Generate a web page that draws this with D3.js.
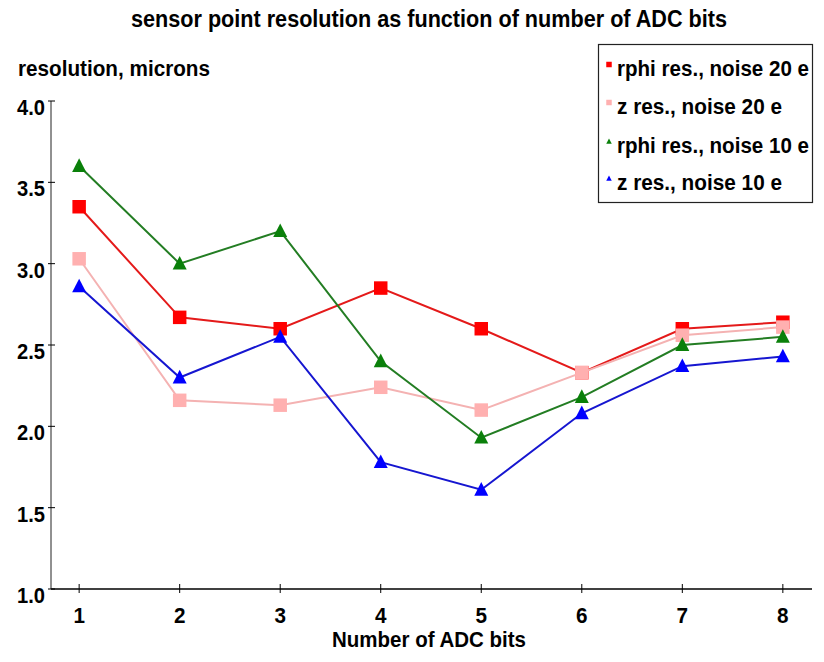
<!DOCTYPE html>
<html>
<head>
<meta charset="utf-8">
<script src="https://cdn.jsdelivr.net/npm/d3@7"></script>
<style>
  html, body { margin: 0; padding: 0; background: #fff; }
  svg text { font-family: "Liberation Sans", Arial, Helvetica, sans-serif; font-weight: bold; fill: #000; }
</style>
</head>
<body>
<svg id="chart" width="824" height="662"></svg>
<script>
// Number of ADC bits on the x axis
const adcBits = [1, 2, 3, 4, 5, 6, 7, 8];

// Point resolution (microns) for each configuration
const rphiNoise20 = [3.35, 2.67, 2.60, 2.85, 2.60, 2.33, 2.60, 2.64];
const zNoise20    = [3.03, 2.16, 2.13, 2.24, 2.10, 2.33, 2.56, 2.61];
const rphiNoise10 = [3.60, 3.00, 3.20, 2.40, 1.93, 2.18, 2.50, 2.55];
const zNoise10    = [2.86, 2.30, 2.55, 1.78, 1.61, 2.08, 2.37, 2.43];

const seriesNames = ["rphi res., noise 20 e", "z res., noise 20 e", "rphi res., noise 10 e", "z res., noise 10 e"];
const yTickValues = [1.0, 1.5, 2.0, 2.5, 3.0, 3.5, 4.0];

const series = [
  { name: seriesNames[0], values: rphiNoise20, marker: "square",   fill: "#ff0000", line: "#e41a1a" },
  { name: seriesNames[1], values: zNoise20,    marker: "square",   fill: "#ffb0b0", line: "#f4b2b2" },
  { name: seriesNames[2], values: rphiNoise10, marker: "triangle", fill: "#0a800a", line: "#237d23" },
  { name: seriesNames[3], values: zNoise10,    marker: "triangle", fill: "#0000ff", line: "#1616d0" }
];

const svg = d3.select("#chart");

// Scales: the axis frame runs slightly beyond the first and last bins
const x = d3.scaleLinear().domain([0.72, 8.29]).range([51, 812]);
const y = d3.scaleLinear().domain([1, 4]).range([589, 101]);

// Title (tall, slightly condensed lettering)
svg.append("text")
  .attr("x", 429).attr("y", 27)
  .attr("text-anchor", "middle")
  .attr("font-size", 23.5)
  .attr("textLength", 596)
  .attr("lengthAdjust", "spacingAndGlyphs")
  .text("sensor point resolution as function of number of ADC bits");

// Y axis title
svg.append("text")
  .attr("x", 18).attr("y", 76)
  .attr("font-size", 22)
  .attr("textLength", 192)
  .attr("lengthAdjust", "spacingAndGlyphs")
  .text("resolution, microns");

// X axis title
svg.append("text")
  .attr("x", 429).attr("y", 647)
  .attr("text-anchor", "middle")
  .attr("font-size", 22)
  .attr("textLength", 194)
  .attr("lengthAdjust", "spacingAndGlyphs")
  .text("Number of ADC bits");

// Axes
const axisG = svg.append("g");
axisG.append("line")
  .attr("x1", x.range()[0]).attr("x2", x.range()[1])
  .attr("y1", y(1)).attr("y2", y(1))
  .attr("stroke", "#000").attr("stroke-width", 1.4);
axisG.append("line")
  .attr("x1", x.range()[0]).attr("x2", x.range()[0])
  .attr("y1", y(1)).attr("y2", y(4))
  .attr("stroke", "#222").attr("stroke-width", 1);

// Y ticks cross the axis line
axisG.selectAll(".ytick").data(yTickValues).join("line")
  .attr("x1", x.range()[0] - 3).attr("x2", x.range()[0] + 4)
  .attr("y1", d => y(d)).attr("y2", d => y(d))
  .attr("stroke", "#000").attr("stroke-width", 1);
axisG.selectAll(".ylab").data(yTickValues).join("text")
  .attr("x", 45).attr("y", d => y(d) + 14)
  .attr("text-anchor", "end")
  .attr("font-size", 21.5)
  .attr("textLength", 28)
  .attr("lengthAdjust", "spacingAndGlyphs")
  .text(d => d3.format(".1f")(d));

// X ticks cross the axis line
axisG.selectAll(".xtick").data(adcBits).join("line")
  .attr("x1", d => x(d)).attr("x2", d => x(d))
  .attr("y1", y(1) - 5).attr("y2", y(1) + 4)
  .attr("stroke", "#000").attr("stroke-width", 1);
axisG.selectAll(".xlab").data(adcBits).join("text")
  .attr("x", d => x(d)).attr("y", 623)
  .attr("text-anchor", "middle")
  .attr("font-size", 22.5)
  .attr("textLength", 11.5)
  .attr("lengthAdjust", "spacingAndGlyphs")
  .text(d => d);

// Marker shapes
function markerPath(type, s) {
  if (type === "square") {
    const h = s / 2;
    return `M${-h},${-h}H${h}V${h}H${-h}Z`;
  }
  const w = s / 2;
  return `M0,${-s * 0.55}L${w},${s * 0.42}L${-w},${s * 0.42}Z`;
}

const lineGen = d3.line().x(d => x(d[0])).y(d => y(d[1]));

series.forEach(s => {
  const pts = adcBits.map((b, i) => [b, s.values[i]]);
  const g = svg.append("g");
  g.append("path")
    .attr("d", lineGen(pts))
    .attr("fill", "none")
    .attr("stroke", s.line)
    .attr("stroke-width", 2);
  g.selectAll("path.m").data(pts).join("path")
    .attr("class", "m")
    .attr("transform", d => `translate(${x(d[0])},${y(d[1])})`)
    .attr("d", markerPath(s.marker, s.marker === "square" ? 13.5 : 14))
    .attr("fill", s.fill);
});

// Legend
const legend = svg.append("g");
legend.append("rect")
  .attr("x", 598.5).attr("y", 44.5)
  .attr("width", 214).attr("height", 158)
  .attr("fill", "#fff")
  .attr("stroke", "#222").attr("stroke-width", 1.2);
const rowBaselines = [76, 114, 153, 190];
const rowWidths = [192, 165, 192, 165];
series.forEach((s, i) => {
  legend.append("path")
    .attr("transform", `translate(609,${rowBaselines[i] - 11.5})`)
    .attr("d", markerPath(s.marker, 5.5))
    .attr("fill", s.fill);
  legend.append("text")
    .attr("x", 617).attr("y", rowBaselines[i])
    .attr("font-size", 22)
    .attr("textLength", rowWidths[i])
    .attr("lengthAdjust", "spacingAndGlyphs")
    .text(s.name);
});
</script>
</body>
</html>
